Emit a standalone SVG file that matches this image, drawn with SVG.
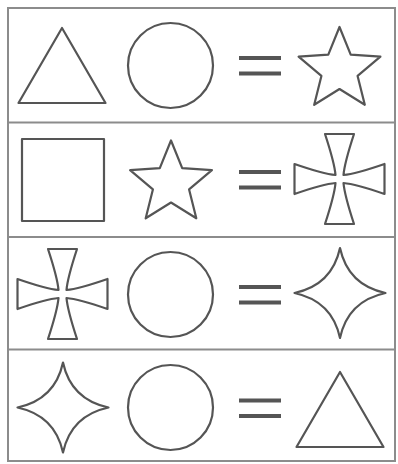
<svg xmlns="http://www.w3.org/2000/svg" xmlns:xlink="http://www.w3.org/1999/xlink" width="398" height="464" viewBox="0 0 398 464">
<style>
.frame{fill:none;stroke:#8c8c8c;stroke-width:2}
.sh{fill:none;stroke:#555;stroke-width:2.2;stroke-linejoin:round}
.eq{stroke:#555;stroke-width:4;stroke-linecap:butt}
</style>
<defs>
<path id="star" d="M0,-43 L11.2,-15.4 L40.9,-13.3 L18.1,5.9 L25.3,34.8 L0,19 L-25.3,34.8 L-18.1,5.9 L-40.9,-13.3 L-11.2,-15.4 Z"/>
<path id="cross" d="M-14.5,-45 L14.5,-45 Q5,-16 4,-4 Q16,-5 45,-15 L45,15 Q16,5 4,4 Q5,16 14.5,45 L-14.5,45 Q-5,16 -4,4 Q-16,5 -45,15 L-45,-15 Q-16,-5 -4,-4 Q-5,-16 -14.5,-45 Z"/>
<path id="astroid" d="M0,-45 Q8,-8 45.5,0 Q8,8 0,45 Q-8,8 -45.5,0 Q-8,-8 0,-45 Z"/>
<path id="tri" d="M0,0 L43.5,75 L-43.5,75 Z"/>
<g id="equals"><line x1="239" y1="0" x2="281" y2="0"/><line x1="239" y1="15.5" x2="281" y2="15.5"/></g>
</defs>
<g id="frame">
<rect class="frame" x="8" y="8" width="387" height="453"/>
<line class="frame" x1="8" y1="122.5" x2="395" y2="122.5"/>
<line class="frame" x1="8" y1="237" x2="395" y2="237"/>
<line class="frame" x1="8" y1="349.5" x2="395" y2="349.5"/>
</g>
<g id="row1">
<use class="sh" xlink:href="#tri" x="62" y="28"/>
<circle class="sh" cx="170.5" cy="65.5" r="42.5"/>
<use class="eq" xlink:href="#equals" y="58"/>
<use class="sh" xlink:href="#star" x="339.5" y="70"/>
</g>
<g id="row2">
<rect class="sh" x="22" y="139" width="82" height="82"/>
<use class="sh" xlink:href="#star" x="171" y="183.5"/>
<use class="eq" xlink:href="#equals" y="172"/>
<use class="sh" xlink:href="#cross" x="339.5" y="179"/>
</g>
<g id="row3">
<use class="sh" xlink:href="#cross" x="62.5" y="294"/>
<circle class="sh" cx="170.5" cy="294.5" r="42.5"/>
<use class="eq" xlink:href="#equals" y="287"/>
<use class="sh" xlink:href="#astroid" x="340" y="293"/>
</g>
<g id="row4">
<use class="sh" xlink:href="#astroid" x="63" y="407.5"/>
<circle class="sh" cx="170.5" cy="407.5" r="42.5"/>
<use class="eq" xlink:href="#equals" y="400.5"/>
<use class="sh" xlink:href="#tri" x="340" y="372"/>
</g>
</svg>
